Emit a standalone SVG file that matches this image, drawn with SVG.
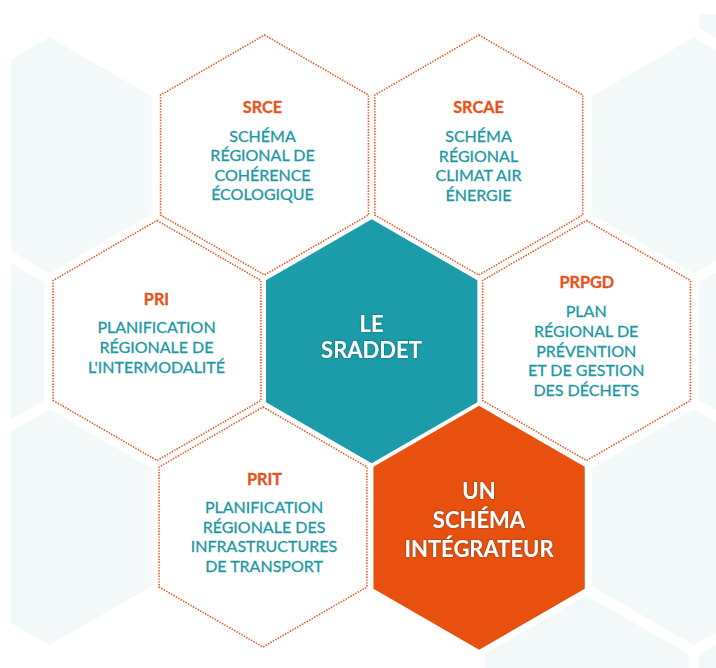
<svg xmlns="http://www.w3.org/2000/svg" xmlns:xlink="http://www.w3.org/1999/xlink" width="716" height="668" viewBox="0 0 716 668">
  <style>
    .bg { fill: #f3f8f9; }
    .dot { fill: #ffffff; stroke: #e8521c; stroke-width: 1.6; stroke-dasharray: 1.4 1.4; }
    .core { fill: #1b9ca8; }
    .accent { fill: #e8500f; }
    .code { font-family: Lato, "Open Sans", sans-serif; font-weight: 700; font-size: 16.3px; fill: #e8531b; text-anchor: middle; stroke: #e8531b; stroke-width: 0.3px; }
    .desc { font-family: Lato, "Open Sans", sans-serif; font-weight: 400; font-size: 16px; fill: #1b98a4; text-anchor: middle; stroke: #1b98a4; stroke-width: 0.3px; }
    .big { font-family: Lato, "Open Sans", sans-serif; font-weight: 700; font-size: 22px; fill: #ffffff; text-anchor: middle; }
  </style>
  <defs>
    <!-- pointy-top hexagons centred on the origin -->
    <polygon id="hexBg" points="0,-118 102.19,-59 102.19,59 0,118 -102.19,59 -102.19,-59"/>
    <polygon id="hexDot" points="0,-120 103.92,-60 103.92,60 0,120 -103.92,60 -103.92,-60"/>
    <polygon id="hexSolid" points="0,-122 105.66,-61 105.66,61 0,122 -105.66,61 -105.66,-61"/>
    <clipPath id="frame">
      <rect x="11" y="14" width="705" height="654"/>
    </clipPath>
    <filter id="glow" x="-20%" y="-40%" width="140%" height="180%">
      <feDropShadow dx="0" dy="0" stdDeviation="1.2" flood-color="#0a3f46" flood-opacity="0.55"/>
    </filter>
  </defs>

  <rect width="716" height="668" fill="#ffffff"/>

  <!-- pale honeycomb backdrop -->
  <g id="backdrop" clip-path="url(#frame)">
    <use xlink:href="#hexBg" class="bg" x="49.5" y="155.3"/>
    <use xlink:href="#hexBg" class="bg" x="-57.9" y="341.3"/>
    <use xlink:href="#hexBg" class="bg" x="49.5" y="527.3"/>
    <use xlink:href="#hexBg" class="bg" x="693.9" y="155.3"/>
    <use xlink:href="#hexBg" class="bg" x="801.3" y="-30.7"/>
    <use xlink:href="#hexBg" class="bg" x="801.3" y="341.3"/>
    <use xlink:href="#hexBg" class="bg" x="693.9" y="527.3"/>
    <use xlink:href="#hexBg" class="bg" x="586.5" y="713.3"/>
    <use xlink:href="#hexBg" class="bg" x="801.3" y="713.3"/>
  </g>

  <g id="srce">
    <use xlink:href="#hexDot" class="dot" x="264.5" y="155"/>
    <text class="code" x="262.5" y="113.3">SRCE</text>
    <text class="desc" x="262.5" y="142.3">SCHÉMA</text>
    <text class="desc" x="262.5" y="161.3">RÉGIONAL DE</text>
    <text class="desc" x="262.5" y="180.5">COHÉRENCE</text>
    <text class="desc" x="262.5" y="200.3">ÉCOLOGIQUE</text>
  </g>

  <g id="srcae">
    <use xlink:href="#hexDot" class="dot" x="478.8" y="155"/>
    <text class="code" x="478.5" y="113.3">SRCAE</text>
    <text class="desc" x="478.5" y="142.3">SCHÉMA</text>
    <text class="desc" x="478.5" y="161.5">RÉGIONAL</text>
    <text class="desc" x="478.5" y="181">CLIMAT AIR</text>
    <text class="desc" x="478.5" y="200.7">ÉNERGIE</text>
  </g>

  <g id="pri">
    <use xlink:href="#hexDot" class="dot" x="157" y="340.5"/>
    <text class="code" x="156.5" y="305">PRI</text>
    <text class="desc" x="156.5" y="333.3">PLANIFICATION</text>
    <text class="desc" x="156.5" y="353.3">RÉGIONALE DE</text>
    <text class="desc" x="156.5" y="372.7">L'INTERMODALITÉ</text>
  </g>

  <g id="prpgd">
    <use xlink:href="#hexDot" class="dot" x="586.5" y="340.5"/>
    <text class="code" x="586.8" y="287.7">PRPGD</text>
    <text class="desc" x="586.2" y="316.7">PLAN</text>
    <text class="desc" x="586.2" y="336.7">RÉGIONAL DE</text>
    <text class="desc" x="586.2" y="356.7">PRÉVENTION</text>
    <text class="desc" x="586.2" y="375.9">ET DE GESTION</text>
    <text class="desc" x="586.2" y="395.7">DES DÉCHETS</text>
  </g>

  <g id="prit">
    <use xlink:href="#hexDot" class="dot" x="263" y="527"/>
    <text class="code" x="264.5" y="485">PRIT</text>
    <text class="desc" x="264" y="513.3">PLANIFICATION</text>
    <text class="desc" x="264" y="532.7">RÉGIONALE DES</text>
    <text class="desc" x="264" y="552.3">INFRASTRUCTURES</text>
    <text class="desc" x="264" y="571.7">DE TRANSPORT</text>
  </g>

  <g id="sraddet">
    <use xlink:href="#hexSolid" class="core" x="371.7" y="341.3"/>
    <g filter="url(#glow)">
      <text class="big" x="371.5" y="332.3">LE</text>
      <text class="big" x="371.5" y="357.7">SRADDET</text>
    </g>
  </g>

  <g id="integrateur">
    <use xlink:href="#hexSolid" class="accent" x="479.1" y="527.8"/>
    <g filter="url(#glow)">
      <text class="big" x="479" y="499">UN</text>
      <text class="big" x="479" y="528.3">SCHÉMA</text>
      <text class="big" x="479" y="556.7">INTÉGRATEUR</text>
    </g>
  </g>
</svg>
